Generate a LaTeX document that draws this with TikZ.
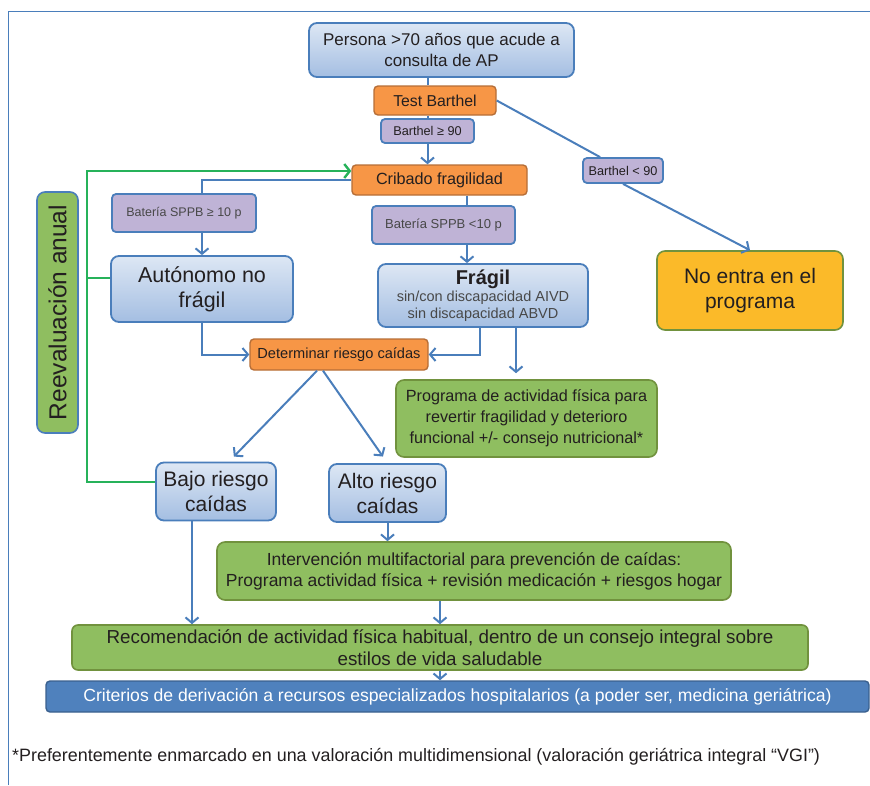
\documentclass[tikz,border=0pt]{standalone}
\usepackage{fontspec}
\setmainfont{Liberation Sans}
\usetikzlibrary{arrows.meta}

\definecolor{azul}{RGB}{74,126,187}
\definecolor{azulclaro}{RGB}{221,231,244}
\definecolor{azulmedio}{RGB}{164,190,226}
\definecolor{azulfondo}{RGB}{79,129,189}
\definecolor{azulborde}{RGB}{58,96,142}
\definecolor{naranja}{RGB}{247,150,70}
\definecolor{naranjaborde}{RGB}{182,110,55}
\definecolor{lila}{RGB}{191,179,214}
\definecolor{verde}{RGB}{143,190,96}
\definecolor{verdeborde}{RGB}{113,146,62}
\definecolor{oro}{RGB}{251,186,41}
\definecolor{verdeflecha}{RGB}{38,178,90}
\definecolor{texto}{RGB}{35,31,32}
\definecolor{gris}{RGB}{72,72,72}

\begin{document}
\begin{tikzpicture}
		[x=1pt,y=-1pt,
		caja/.style={draw=azul,line width=1.8pt,rounded corners=8pt,top color=azulclaro,bottom color=azulmedio,align=center,text=texto,inner sep=0pt},
		prueba/.style={draw=naranjaborde,line width=1.4pt,rounded corners=4pt,fill=naranja,text=texto,inner sep=0pt},
		corte/.style={draw=azul,line width=1.8pt,rounded corners=4pt,fill=lila,inner sep=0pt},
		accion/.style={draw=verdeborde,line width=1.6pt,rounded corners=8pt,fill=verde,align=center,text=texto,inner sep=0pt},
		flecha/.style={azul,line width=2pt,-{Straight Barb[length=5.5pt,width=13pt]}},
		linea/.style={azul,line width=2pt},
		vuelta/.style={verdeflecha,line width=2.4pt}]

		\useasboundingbox (0,0) rectangle (870,785);
		\draw[azul,line width=1pt] (8,785) -- (8,11) -- (870,11);

		\node[caja,minimum width=265pt,minimum height=54pt,font=\fontsize{17}{21}\selectfont] (persona) at (441.5,50) {Persona >70 años que acude a\\consulta de AP};
		\node[prueba,minimum width=122pt,minimum height=29pt,font=\fontsize{15.8}{18}\selectfont] (barthel) at (435,100.5) {Test Barthel};
		\node[corte,minimum width=93pt,minimum height=24pt,font=\fontsize{12.7}{15}\selectfont,text=texto] (bmas) at (427.5,131) {Barthel ≥ 90};
		\node[prueba,minimum width=175pt,minimum height=30pt,font=\fontsize{16.2}{19}\selectfont] (cribado) at (439.5,180) {Cribado fragilidad};
		\node[corte,minimum width=80pt,minimum height=25pt,font=\fontsize{12.7}{15}\selectfont,text=texto] (bmenos) at (623,170.5) {Barthel < 90};
		\node[accion,fill=oro,minimum width=186pt,minimum height=79pt,font=\fontsize{21}{25}\selectfont] (noentra) at (750,290.5) {No entra en el\\programa};

		\node[corte,minimum width=144pt,minimum height=38pt,font=\fontsize{12.5}{15}\selectfont,text=gris] (sppbA) at (184,213) {Batería SPPB ≥ 10 p};
		\node[corte,minimum width=143pt,minimum height=38pt,font=\fontsize{13}{15}\selectfont,text=gris] (sppbB) at (443.5,225) {Batería SPPB <10 p};
		\node[caja,minimum width=182pt,minimum height=66pt,font=\fontsize{21.5}{25}\selectfont] (autonomo) at (202,289) {Autónomo no\\frágil};
		\node[caja,minimum width=210pt,minimum height=63pt,font=\fontsize{14.5}{17}\selectfont] (fragil) at (483,295.5) {{\fontsize{20}{22}\selectfont\bfseries Frágil}\\\color{gris}sin/con discapacidad AIVD\\\color{gris}sin discapacidad ABVD};
		\node[prueba,minimum width=178pt,minimum height=31pt,font=\fontsize{14.6}{17}\selectfont] (riesgo) at (339,354.5) {Determinar riesgo caídas};
		\node[accion,minimum width=261pt,minimum height=77pt,font=\fontsize{16.2}{21}\selectfont] (progfis) at (526.5,418.5) {Programa de actividad física para\\revertir fragilidad y deterioro\\funcional +/- consejo nutricional*};

		\node[accion,draw=azul,rotate=90,minimum width=241pt,minimum height=41pt,font=\fontsize{24.5}{24}\selectfont] (reeval) at (57.5,312.5) {Reevaluación anual};
		\node[caja,minimum width=120pt,minimum height=58pt,font=\fontsize{21}{25}\selectfont] (bajo) at (216,491.5) {Bajo riesgo\\caídas};
		\node[caja,minimum width=117pt,minimum height=58pt,font=\fontsize{21}{25}\selectfont] (alto) at (387.5,493) {Alto riesgo\\caídas};

		\node[accion,minimum width=514pt,minimum height=58pt,font=\fontsize{17.5}{21}\selectfont] (interv) at (474,571) {Intervención multifactorial para prevención de caídas:\\Programa actividad física + revisión medicación + riesgos hogar};
		\node[accion,minimum width=736pt,minimum height=45pt,rounded corners=6pt,font=\fontsize{18.8}{22}\selectfont] (recom) at (440,647.5) {Recomendación de actividad física habitual, dentro de un consejo integral sobre\\estilos de vida saludable};
		\node[draw=azulborde,fill=azulfondo,line width=1.4pt,rounded corners=4pt,inner sep=0pt,minimum width=823pt,minimum height=31pt,text=white,font=\fontsize{17.6}{19}\selectfont] (criterios) at (457.5,696.5) {Criterios de derivación a recursos especializados hospitalarios (a poder ser, medicina geriátrica)};
		\node[anchor=west,inner sep=0pt,text=texto,font=\fontsize{17.9}{19}\selectfont] (nota) at (12,757) {*Preferentemente enmarcado en una valoración multidimensional (valoración geriátrica integral “VGI”)};

		\coordinate (ejeB) at (467,0);
		\coordinate (ejeC) at (516,0);
		\coordinate (riel) at (87,171);

		\draw[linea] (persona.south -| bmas) -- (barthel.north -| bmas);
		\draw[linea] (barthel.south -| bmas) -- (bmas.north);
		\draw[flecha] (bmas.south) -- (cribado.north -| bmas);
		\draw[linea] (barthel.east) -- ([xshift=18pt]bmenos.north west);
		\draw[flecha] (bmenos.south) -- (noentra.north);

		\draw[linea] (cribado.west) -| (sppbA.north -| autonomo);
		\draw[flecha] (sppbA.south -| autonomo) -- (autonomo.north);
		\draw[linea] (cribado.south -| ejeB) -- (sppbB.north -| ejeB);
		\draw[flecha] (sppbB.south -| ejeB) -- (fragil.north -| ejeB);

		\draw[flecha] (autonomo.south) |- (riesgo.west);
		\draw[flecha] ([xshift=-3pt]fragil.south) |- (riesgo.east);
		\draw[flecha,shorten >=6pt] (fragil.south -| ejeC) -- (progfis.north -| ejeC);
		\draw[flecha,shorten >=7pt] ([xshift=-22pt]riesgo.south) -- ([xshift=13pt]bajo.north);
		\draw[flecha,shorten >=8pt] ([xshift=-16pt]riesgo.south) -- (alto.north);

		% reevaluacion anual
		\draw[vuelta,-{Straight Barb[length=5.5pt,width=14pt]}] ([yshift=9.5pt]bajo.west) -| (riel) -- ([yshift=9pt]cribado.west);
		\draw[vuelta] ([yshift=11pt]autonomo.west) -- ([yshift=11pt]autonomo.west -| riel);

		\draw[flecha] ([xshift=-24pt]bajo.south) -- ([xshift=-24pt]bajo.south |- recom.north);
		\draw[flecha] (alto.south) -- (interv.north -| alto);
		\draw[flecha] (interv.south -| recom) -- (recom.north);
		\draw[flecha] (recom.south) -- (criterios.north -| recom);

		\end{tikzpicture}
\end{document}
